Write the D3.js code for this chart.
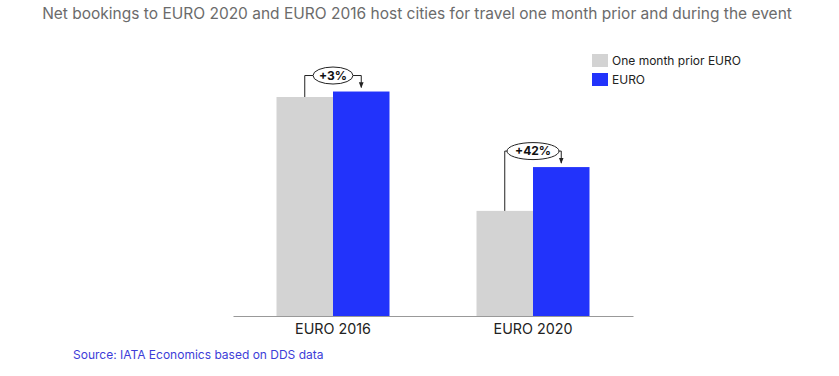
<!DOCTYPE html>
<html>
<head>
<meta charset="utf-8">
<script src="https://cdn.jsdelivr.net/npm/d3@7"></script>
<style>
  body { margin: 0; background: #fff; }
  text { font-family: Inter, "Liberation Sans", sans-serif; }
</style>
</head>
<body>
<div id="chart"></div>
<script>
const categories = ["EURO 2016", "EURO 2020"];
const seriesNames = ["One month prior EURO", "EURO"];
const priorValues = [100, 48];
const euroValues = [102.5, 68];
const changeLabels = ["+3%", "+42%"];

const W = 839, H = 376;
const base = 316, top0 = 97;

const svg = d3.select("#chart").append("svg")
  .attr("width", W)
  .attr("height", H);

const color = d3.scaleOrdinal()
  .domain(seriesNames)
  .range(["#d3d3d3", "#2233fb"]);

const x0 = d3.scaleBand()
  .domain(categories)
  .range([233, 633])
  .paddingInner(0.435)
  .paddingOuter(0.2175);

const x1 = d3.scaleBand()
  .domain(seriesNames)
  .range([0, x0.bandwidth()])
  .padding(0);

const y = d3.scaleLinear()
  .domain([0, 100])
  .range([base, top0]);

const rows = categories.map((c, i) => ({
  cat: c,
  vals: [priorValues[i], euroValues[i]],
  label: changeLabels[i]
}));

// title
svg.append("text")
  .attr("x", 417)
  .attr("y", 19)
  .attr("text-anchor", "middle")
  .style("font-size", "15.5px")
  .style("fill", "#6b6b6b")
  .text("Net bookings to EURO 2020 and EURO 2016 host cities for travel one month prior and during the event");

// bars
const groups = svg.selectAll("g.grp")
  .data(rows)
  .enter().append("g")
  .attr("class", "grp")
  .attr("transform", d => `translate(${x0(d.cat)},0)`);

groups.selectAll("rect")
  .data(d => d.vals.map((v, j) => ({ key: seriesNames[j], v })))
  .enter().append("rect")
  .attr("x", d => x1(d.key))
  .attr("y", d => y(d.v))
  .attr("width", x1.bandwidth())
  .attr("height", d => base - y(d.v))
  .attr("fill", d => color(d.key));

// axis
const xAxis = svg.append("g")
  .attr("transform", `translate(0,${base})`)
  .call(d3.axisBottom(x0).tickSize(0).tickPadding(8));
xAxis.select(".domain").attr("stroke", "#999").attr("stroke-width", 1.2);
xAxis.selectAll("text")
  .style("font-size", "14.3px")
  .style("fill", "#222")
  .style("font-family", "Inter, 'Liberation Sans', sans-serif");

// change annotations
svg.append("defs").append("marker")
  .attr("id", "arr")
  .attr("viewBox", "0 0 10 10")
  .attr("refX", 9).attr("refY", 5)
  .attr("markerWidth", 6).attr("markerHeight", 6)
  .attr("orient", "auto")
  .append("path")
  .attr("d", "M0,1 L10,5 L0,9 Z")
  .attr("fill", "#222");

rows.forEach(d => {
  const xa = x0(d.cat) + x1(seriesNames[0]) + x1.bandwidth() / 2;
  const xb = x0(d.cat) + x1(seriesNames[1]) + x1.bandwidth() / 2;
  const ya = y(d.vals[0]);
  const yb = y(d.vals[1]);
  const yl = Math.min(ya, yb) - 16;
  const g = svg.append("g");
  g.append("path")
    .attr("d", `M${xa},${ya} V${yl} H${xb} V${yb - 4}`)
    .attr("fill", "none")
    .attr("stroke", "#222")
    .attr("stroke-width", 1)
    .attr("marker-end", "url(#arr)");
  const cx = (xa + xb) / 2;
  const rx = d.label.length > 3 ? 26 : 20;
  g.append("ellipse")
    .attr("cx", cx).attr("cy", yl)
    .attr("rx", rx).attr("ry", 8.5)
    .attr("fill", "#fff")
    .attr("stroke", "#222")
    .attr("stroke-width", 1);
  g.append("text")
    .attr("x", cx).attr("y", yl + 4.3)
    .attr("text-anchor", "middle")
    .style("font-size", "12px")
    .style("font-weight", "bold")
    .style("fill", "#111")
    .text(d.label);
});

// legend
const legend = svg.append("g").attr("transform", "translate(592,54)");
seriesNames.forEach((s, i) => {
  const row = legend.append("g").attr("transform", `translate(0,${i * 19})`);
  row.append("rect")
    .attr("width", 16).attr("height", 13)
    .attr("fill", color(s));
  row.append("text")
    .attr("x", 20).attr("y", 10.5)
    .style("font-size", "12px")
    .style("fill", "#222")
    .text(s);
});

// source
svg.append("text")
  .attr("x", 73)
  .attr("y", 359)
  .style("font-size", "12px")
  .style("fill", "#3d3dd8")
  .text("Source: IATA Economics based on DDS data");
</script>
</body>
</html>
